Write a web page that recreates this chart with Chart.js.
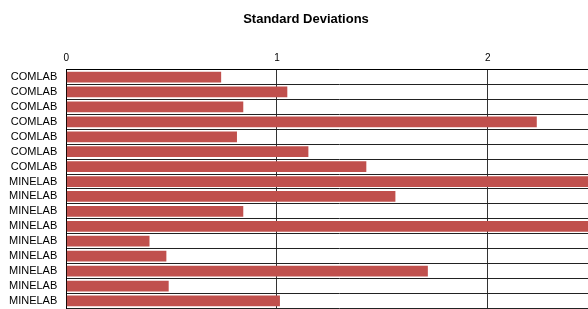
<html>
<head>
<meta charset="UTF-8">
<title>Standard Deviations</title>
<script src="https://cdn.jsdelivr.net/npm/chart.js@4.4.0/dist/chart.umd.min.js"></script>
<style>
  html, body { margin: 0; padding: 0; background: #fff; overflow: hidden; }
  #wrap { width: 588px; height: 309px; overflow: hidden; }
  canvas { display: block; }
</style>
</head>
<body>
<div id="wrap"><canvas id="myChart" width="612" height="324"></canvas></div>
<script>
// categories, top to bottom
var labels = ['COMLAB', 'COMLAB', 'COMLAB', 'COMLAB', 'COMLAB', 'COMLAB', 'COMLAB',
              'MINELAB', 'MINELAB', 'MINELAB', 'MINELAB', 'MINELAB', 'MINELAB',
              'MINELAB', 'MINELAB', 'MINELAB'];
// standard deviation per row (rows 8 and 11 run past the visible edge)
var stdDev = [0.735, 1.049, 0.84, 2.233, 0.81, 1.149, 1.424,
              2.6, 1.562, 0.84, 2.7, 0.395, 0.475, 1.716, 0.486, 1.014];
var xTicks = [0, 1, 2];

Chart.defaults.font.family = '"Liberation Sans", Arial, sans-serif';
Chart.defaults.color = '#000';

var ctx = document.getElementById('myChart').getContext('2d');
var chart = new Chart(ctx, {
  type: 'bar',
  data: {
    labels: labels,
    datasets: [{
      label: 'Standard Deviation',
      data: stdDev,
      backgroundColor: '#c0504d',
      borderWidth: 0,
      barPercentage: 0.72,
      categoryPercentage: 1.0
    }]
  },
  options: {
    indexAxis: 'y',
    responsive: false,
    animation: false,
    layout: { padding: { left: 0, right: 0, top: 0, bottom: 0 } },
    plugins: {
      legend: { display: false },
      tooltip: { enabled: false },
      title: {
        display: true,
        text: 'Standard Deviations',
        font: { size: 13, weight: 'bold' },
        color: '#000',
        padding: { top: 12, bottom: 20 }
      }
    },
    scales: {
      x: {
        position: 'top',
        min: 0,
        max: 2.59,
        afterBuildTicks: function(scale) {
          scale.ticks = xTicks.map(function(v) { return { value: v }; });
        },
        ticks: { font: { size: 10 }, padding: 5, color: '#000' },
        grid: { color: '#333', lineWidth: 1, drawTicks: false },
        border: { display: true, color: '#000', width: 1 }
      },
      y: {
        ticks: { font: { size: 11 }, padding: 9, color: '#000', autoSkip: false },
        grid: { color: '#222', lineWidth: 1, drawTicks: false, offset: true },
        border: { display: true, color: '#000', width: 1 }
      }
    }
  }
});
</script>
</body>
</html>
